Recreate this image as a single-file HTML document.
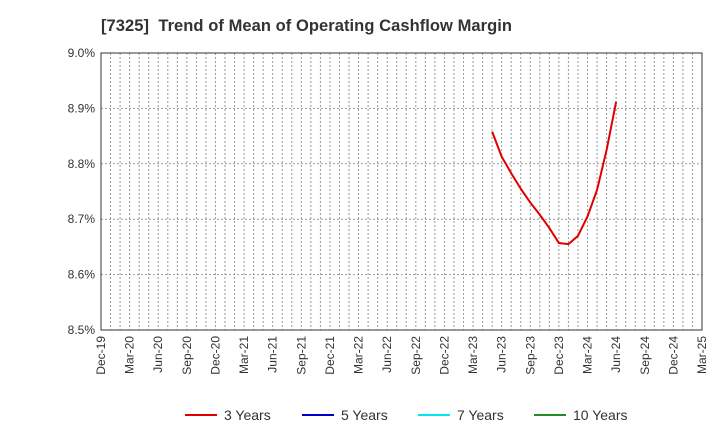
<!DOCTYPE html>
<html><head><meta charset="utf-8"><style>
body{margin:0;background:#fff;font-family:"Liberation Sans",sans-serif;}
</style></head><body>
<svg id="c" width="720" height="440" xmlns="http://www.w3.org/2000/svg">
<text x="101" y="31" xml:space="preserve" font-size="16.5" font-weight="bold" fill="#333" textLength="411">[7325]  Trend of Mean of Operating Cashflow Margin</text>
<g id="grid"></g><g id="axes"></g><g id="series"></g>
<g id="legend"></g>
</svg>
<script>
const xLabels=["Dec-19","Mar-20","Jun-20","Sep-20","Dec-20","Mar-21","Jun-21","Sep-21","Dec-21","Mar-22","Jun-22","Sep-22","Dec-22","Mar-23","Jun-23","Sep-23","Dec-23","Mar-24","Jun-24","Sep-24","Dec-24","Mar-25"];
const yTicks=[8.5,8.6,8.7,8.8,8.9,9.0];
const series3Months=[41,42,43,44,45,46,47,48,49,50,51,52,53,54];
const series3Values=[8.858,8.813,8.783,8.755,8.730,8.708,8.684,8.657,8.655,8.670,8.705,8.753,8.825,8.912];
const L=101,R=702,T=53,B=330,NM=63;
const xs=m=>L+(R-L)*m/NM;
const ys=v=>B-(v-8.5)/0.5*(B-T);
const ns="http://www.w3.org/2000/svg";
function mk(p,tag,a){const e=document.createElementNS(ns,tag);for(const k in a)e.setAttribute(k,a[k]);p.appendChild(e);return e;}
const g=document.getElementById('grid'),ax=document.getElementById('axes'),s=document.getElementById('series'),lg=document.getElementById('legend');
for(let m=1;m<NM;m++){const l=mk(g,'line',{x1:xs(m),x2:xs(m),y1:T,y2:B,stroke:'#999','stroke-dasharray':'2,2','stroke-width':1});

}
yTicks.forEach(v=>{const y=ys(v);const l=mk(g,'line',{x1:L,x2:R,y1:y,y2:y,stroke:'#999','stroke-dasharray':'2,2','stroke-width':1});


const t=mk(ax,'text',{x:L-6,y:y+4,'text-anchor':'end','font-size':12,fill:'#333'});t.textContent=v.toFixed(1)+'%';

});
const fr=mk(ax,'rect',{x:L,y:T,width:R-L,height:B-T,fill:'none',stroke:'#333','stroke-width':1});


xLabels.forEach((lab,i)=>{const x=xs(i*3);const t=mk(ax,'text',{x:x+4,y:B+6,'text-anchor':'end','font-size':12,fill:'#333',transform:`rotate(-90 ${x+4} ${B+6})`});t.textContent=lab;

});
const pts=series3Months.map((m,i)=>xs(m)+','+ys(series3Values[i])).join(' ');
const pl=mk(s,'polyline',{points:pts,fill:'none',stroke:'#e00000','stroke-width':2});


const leg=[["3 Years","#e00000",185],["5 Years","#0000cc",302],["7 Years","#00e5ee",418],["10 Years","#228b22",534]];
leg.forEach(([n,c,x])=>{const l=mk(lg,'line',{x1:x,x2:x+32,y1:415,y2:415,stroke:c,'stroke-width':2});


const t=mk(lg,'text',{x:x+39,y:420,'font-size':14,fill:'#333'});t.textContent=n;

});
</script>
</body></html>
